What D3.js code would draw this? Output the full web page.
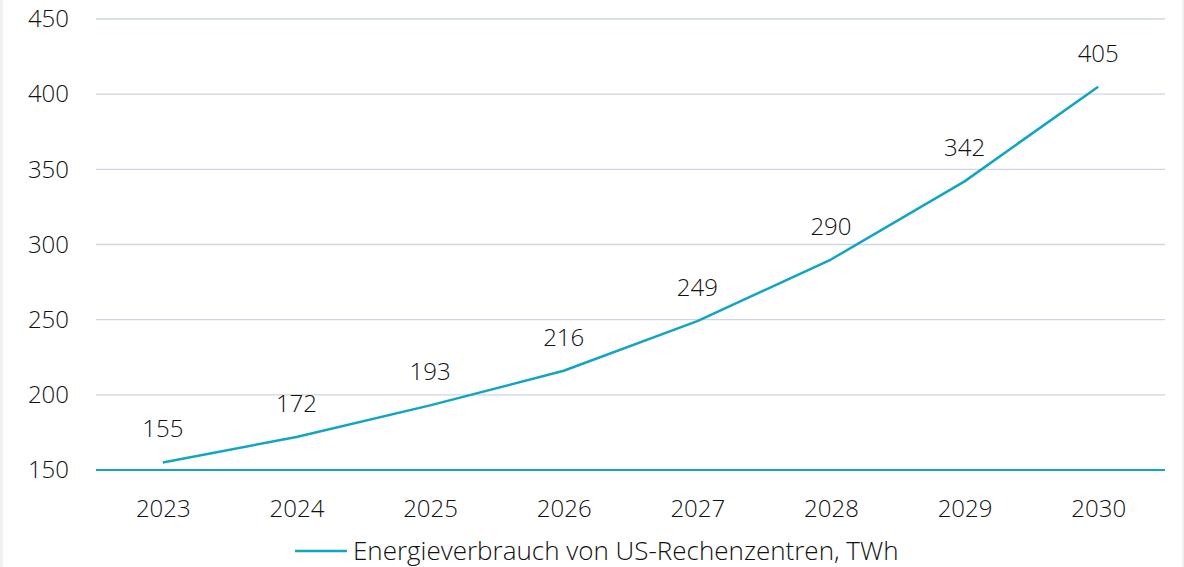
<!DOCTYPE html>
<html lang="de">

<head>
  <meta charset="UTF-8">
  <title>Energieverbrauch US-Rechenzentren</title>
  <script src="https://d3js.org/d3.v7.min.js"></script>
  <style>
    html, body {
      margin: 0;
      padding: 0;
      background: #f0f0f0;
    }

    svg {
      display: block;
      font-family: "Open Sans", "Noto Sans", sans-serif;
      font-weight: 300;
    }

    .grid line {
      stroke: #cdd6e2;
      stroke-width: 1.3px;
    }

    .label {
      fill: #111;
      font-size: 24px;
    }
  </style>
</head>

<body>
  <svg width="1184" height="567"></svg>
  <script>
    // Daten
    const years = ["2023", "2024", "2025", "2026", "2027", "2028", "2029", "2030"];
    const values = [155, 172, 193, 216, 249, 290, 342, 405];
    const yTicks = [150, 200, 250, 300, 350, 400, 450];
    const seriesName = "Energieverbrauch von US-Rechenzentren, TWh";

    const svg = d3.select("svg"),
      width = +svg.attr("width"),
      height = +svg.attr("height");

    const color = "#12a5c3";
    const margin = { left: 96, right: 19, top: 19, bottom: 97 };

    // weißer Hintergrund mit grauem Rand links/rechts
    svg.append("rect")
      .attr("x", 3).attr("y", 0)
      .attr("width", width - 5).attr("height", height)
      .attr("fill", "#fff");

    const x = d3.scalePoint()
      .domain(years)
      .range([margin.left, width - margin.right])
      .padding(0.5);

    const y = d3.scaleLinear()
      .domain([150, 450])
      .range([height - margin.bottom, margin.top]);

    // Gitterlinien
    svg.append("g")
      .attr("class", "grid")
      .selectAll("line")
      .data(yTicks.slice(1))
      .enter()
      .append("line")
      .attr("x1", margin.left)
      .attr("x2", width - margin.right)
      .attr("y1", d => y(d))
      .attr("y2", d => y(d));

    // y-Achse
    const yAxis = svg.append("g")
      .attr("transform", `translate(${margin.left},0)`)
      .call(d3.axisLeft(y).tickValues(yTicks).tickSize(0).tickPadding(27))
      .attr("font-family", null)
      .attr("font-size", null);
    yAxis.select(".domain").remove();
    yAxis.selectAll("text").attr("class", "label");

    // x-Achse (Grundlinie)
    const xAxis = svg.append("g")
      .attr("transform", `translate(0,${y(150)})`)
      .call(d3.axisBottom(x).tickSize(0).tickPadding(30))
      .attr("font-family", null)
      .attr("font-size", null);
    xAxis.select(".domain")
      .attr("d", `M${margin.left},0H${width - margin.right}`)
      .attr("stroke", color)
      .attr("stroke-width", 2);
    xAxis.selectAll("text").attr("class", "label");

    // Linie
    const line = d3.line()
      .x((d, i) => x(years[i]))
      .y(d => y(d));

    svg.append("path")
      .datum(values)
      .attr("d", line)
      .attr("fill", "none")
      .attr("stroke", color)
      .attr("stroke-width", 2.5)
      .attr("stroke-linejoin", "round");

    // Datenbeschriftungen
    svg.selectAll(".value")
      .data(values)
      .enter()
      .append("text")
      .attr("class", "label value")
      .attr("x", (d, i) => x(years[i]))
      .attr("y", d => y(d) - 25)
      .attr("text-anchor", "middle")
      .text(d => d);

    // Legende
    const legend = svg.append("g")
      .attr("transform", "translate(295,551)");
    legend.append("line")
      .attr("x1", 0).attr("x2", 52)
      .attr("stroke", color)
      .attr("stroke-width", 2.5);
    legend.append("text")
      .attr("class", "label")
      .attr("x", 58)
      .attr("dy", "0.35em")
      .style("font-size", "26px")
      .text(seriesName);
  </script>
</body>

</html>
